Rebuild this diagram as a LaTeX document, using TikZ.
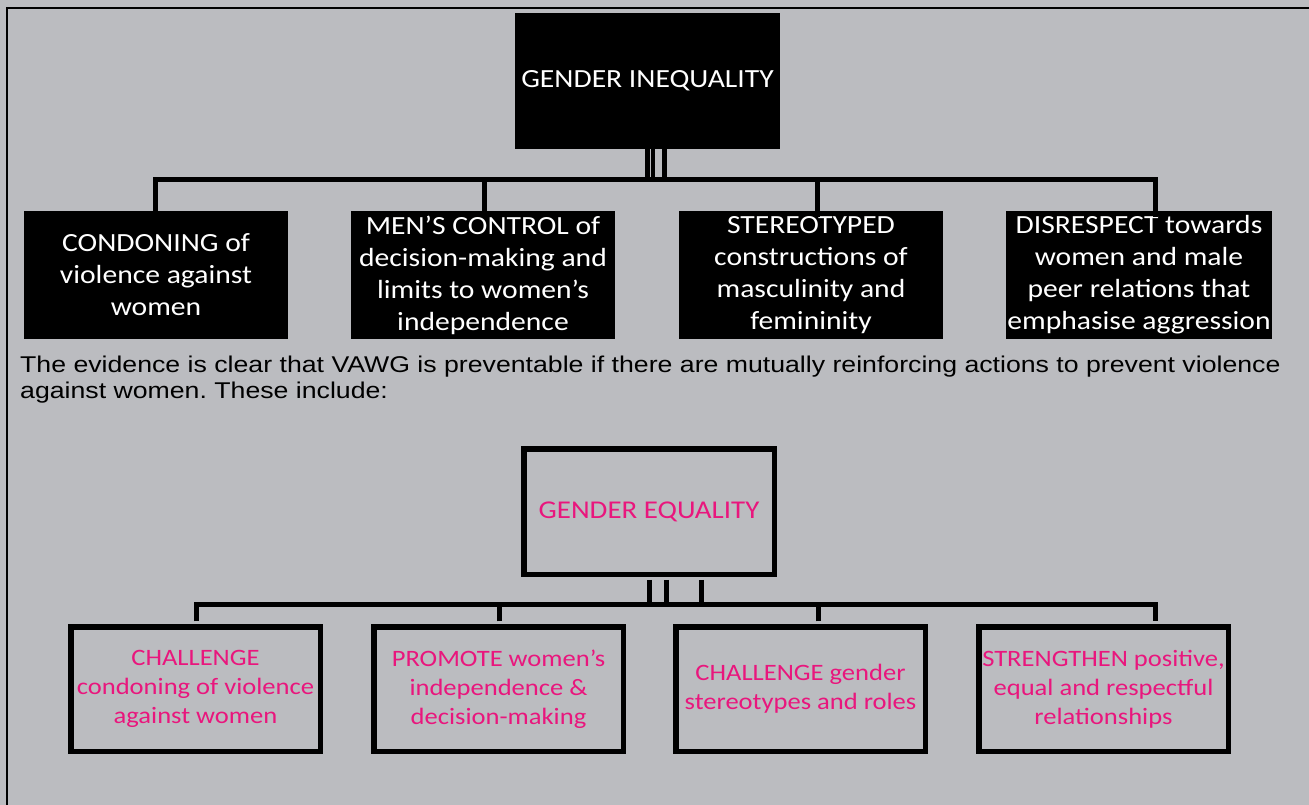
\documentclass[tikz,border=0pt]{standalone}
\usepackage{fontspec}
\setmainfont{Carlito}
\newfontfamily\boxfont[FakeStretch=1.13]{Carlito}
\newfontfamily\arialfont[FakeStretch=1.17]{Liberation Sans}
\usetikzlibrary{calc}
\definecolor{bggray}{RGB}{187,188,192}
\definecolor{pinktxt}{RGB}{233,22,125}
\frenchspacing
\tikzset{
  blackbox/.style={fill=black, text=white, inner sep=0pt, align=center,
    minimum width=264pt, minimum height=128pt,
    font=\boxfont\fontsize{26.2}{32}\selectfont},
  pinkbox/.style={draw=black, line width=5.5pt, fill=bggray, text=pinktxt, inner sep=0pt, align=center,
    minimum width=249.5pt, minimum height=124.5pt,
    font=\boxfont\fontsize{23.5}{29}\selectfont},
  conn/.style={line width=5pt, line join=miter, line cap=butt},
  bar/.style={line width=4.5pt, line cap=butt},
}
\begin{document}
\begin{tikzpicture}[x=1pt,y=-1pt]
\useasboundingbox (0,0) rectangle (1309,805);
\fill[bggray] (0,0) rectangle (1309,805);
\draw[line width=2.5pt] (7,805) -- (7,8) -- (1309,8);

% top
\node[blackbox, minimum width=265pt, minimum height=136pt] (ineq) at (647.5,81) {GENDER INEQUALITY};
\node[blackbox] (c1) at (156,275) {CONDONING of\\violence against\\women};
\node[blackbox] (c2) at (483,275) {MEN’S CONTROL of\\decision-making and\\limits to women’s\\independence};
\node[blackbox] (c3) at (811,275) {STEREOTYPED\\constructions of\\masculinity and\\femininity};
\node[blackbox, minimum width=266pt] (c4) at (1139,275) {DISRESPECT towards\\women and male\\peer relations that\\emphasise aggression};

\coordinate (busT) at (0,179.5);
\coordinate (d1) at ($(c1.north)+(-0.5,6)$);
\coordinate (d2) at ($(c2.north)+(1.5,6)$);
\coordinate (d3) at ($(c3.north)+(6,6)$);
\coordinate (d4) at ($(c4.north)+(16,6)$);
\draw[conn] (d1) -- (d1 |- busT) -- (d4 |- busT) -- (d4);
\draw[conn] (d2) -- (d2 |- busT);
\draw[conn] (d3) -- (d3 |- busT);
\draw[bar] ($(ineq.south)+(0,0)$) -- ($(ineq.south |- busT)+(0,0)$);
\draw[bar] ($(ineq.south)+(5.5,0)$) -- ($(ineq.south |- busT)+(5.5,0)$);
\draw[bar] ($(ineq.south)+(17,0)$) -- ($(ineq.south |- busT)+(17,0)$);

% paragraph
\node[anchor=base west, inner sep=0pt, align=left, font=\arialfont\fontsize{22.8}{26}\selectfont] (para) at (20,398)
 {The evidence is clear that VAWG is preventable if there are mutually reinforcing actions to prevent violence\\against women. These include:};

% bottom
\node[pinkbox, minimum width=250.5pt, minimum height=125.5pt, font=\boxfont\fontsize{25.6}{30}\selectfont] (eq) at (649,511.5) {GENDER EQUALITY};
\node[pinkbox] (b1) at (195.5,689) {CHALLENGE\\condoning of violence\\against women};
\node[pinkbox] (b2) at (498.5,689) {PROMOTE women’s\\independence \&\\decision-making};
\node[pinkbox] (b3) at (800.5,689) {CHALLENGE gender\\stereotypes and roles};
\node[pinkbox] (b4) at (1103.5,689) {STRENGTHEN positive,\\equal and respectful\\relationships};

\coordinate (busB) at (0,604.5);
\coordinate (e1) at ($(b1.north)+(1,-2.75)$);
\coordinate (e2) at ($(b2.north)+(1,-2.75)$);
\coordinate (e3) at ($(b3.north)+(17.5,-2.75)$);
\coordinate (e4) at ($(b4.north)+(51.5,-2.75)$);
\draw[conn] (e1) -- (e1 |- busB) -- (e4 |- busB) -- (e4);
\draw[conn] (e2) -- (e2 |- busB);
\draw[conn] (e3) -- (e3 |- busB);
\coordinate (eb) at ($(eq.south)+(0,2.75)$);
\draw[conn] ($(eb)+(0.5,0)$) -- ($(eb |- busB)+(0.5,0)$);
\draw[conn] ($(eb)+(17.5,0)$) -- ($(eb |- busB)+(17.5,0)$);
\draw[conn] ($(eb)+(52.5,0)$) -- ($(eb |- busB)+(52.5,0)$);
\end{tikzpicture}
\end{document}
